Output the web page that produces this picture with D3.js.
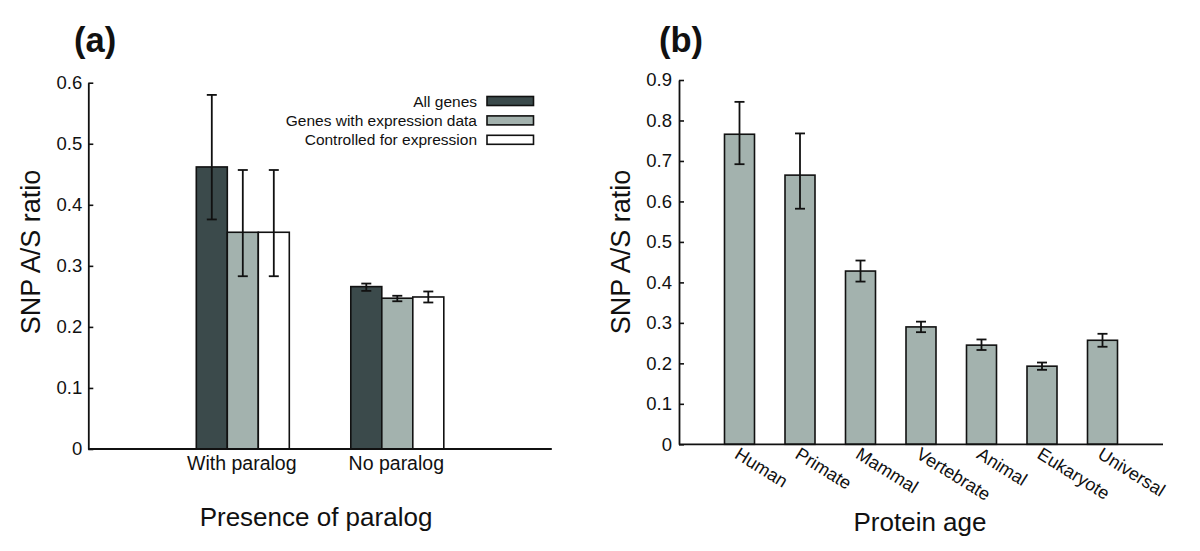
<!DOCTYPE html>
<html>
<head>
<meta charset="utf-8">
<script src="https://cdn.jsdelivr.net/npm/d3@7"></script>
<style>
  body { margin: 0; background: #fff; }
  svg { font-family: "Liberation Sans", Arial, sans-serif; }
</style>
</head>
<body>
<svg width="1200" height="551"></svg>
<script>
// ---- panel (a) data ----
const groupsA = ["With paralog", "No paralog"];
const seriesA = ["All genes", "Genes with expression data", "Controlled for expression"];
const colorsA = ["#3b4a4b", "#a3b2ae", "#ffffff"];
// values[series][group]
const allGenes = [0.462, 0.266];
const exprGenes = [0.355, 0.247];
const controlled = [0.355, 0.249];
const allGenesLo = [0.376, 0.259], allGenesHi = [0.580, 0.271];
const exprLo = [0.283, 0.242], exprHi = [0.457, 0.251];
const controlledLo = [0.283, 0.240], controlledHi = [0.457, 0.258];
const ticksA = [0, 0.1, 0.2, 0.3, 0.4, 0.5, 0.6];

// ---- panel (b) data ----
const ages = ["Human", "Primate", "Mammal", "Vertebrate", "Animal", "Eukaryote", "Universal"];
const ratioB = [0.766, 0.665, 0.428, 0.290, 0.245, 0.193, 0.257];
const lowB = [0.692, 0.582, 0.402, 0.277, 0.233, 0.184, 0.241];
const highB = [0.846, 0.768, 0.454, 0.303, 0.259, 0.202, 0.273];
const ticksB = [0, 0.1, 0.2, 0.3, 0.4, 0.5, 0.6, 0.7, 0.8, 0.9];

const svg = d3.select("svg");
const tickFmt = d => d === 0 ? "0" : d3.format(".1f")(d);

// build table for (a)
const valsA = [allGenes, exprGenes, controlled];
const losA = [allGenesLo, exprLo, controlledLo];
const hisA = [allGenesHi, exprHi, controlledHi];
const rowsA = [];
seriesA.forEach((s, i) => {
    groupsA.forEach((g, j) => {
        rowsA.push({ series: s, group: g, v: valsA[i][j], lo: losA[i][j], hi: hisA[i][j], color: colorsA[i] });
    });
});

//////////// PANEL A ////////////
const xA = d3.scalePoint().domain(groupsA).range([88.3, 551.8]).padding(1);
const subA = d3.scaleBand().domain(seriesA).range([-46.5, 46.5]);
const yA = d3.scaleLinear().domain([0, 0.6]).range([449, 82.7]);

const gA = svg.append("g");

gA.selectAll("rect.bar")
    .data(rowsA)
    .enter()
    .append("rect")
    .attr("class", "bar")
    .attr("x", d => xA(d.group) + subA(d.series))
    .attr("y", d => yA(d.v))
    .attr("width", subA.bandwidth())
    .attr("height", d => yA(0) - yA(d.v))
    .attr("fill", d => d.color)
    .attr("stroke", "#111")
    .attr("stroke-width", 1.6);

function errorBars(g, data, xFn, y) {
    const eb = g.selectAll("g.err").data(data).enter().append("g").attr("class", "err")
        .attr("stroke", "#111").attr("stroke-width", 1.8);
    eb.append("line")
        .attr("x1", xFn).attr("x2", xFn)
        .attr("y1", d => y(d.lo)).attr("y2", d => y(d.hi));
    eb.append("line")
        .attr("x1", d => xFn(d) - 5).attr("x2", d => xFn(d) + 5)
        .attr("y1", d => y(d.hi)).attr("y2", d => y(d.hi));
    eb.append("line")
        .attr("x1", d => xFn(d) - 5).attr("x2", d => xFn(d) + 5)
        .attr("y1", d => y(d.lo)).attr("y2", d => y(d.lo));
}
errorBars(gA, rowsA, d => xA(d.group) + subA(d.series) + subA.bandwidth() / 2, yA);

// y axis (a)
const axA = gA.append("g")
    .attr("transform", "translate(88.3,0)")
    .call(d3.axisLeft(yA).tickValues(ticksA).tickFormat(tickFmt).tickSizeInner(-5).tickSizeOuter(0).tickPadding(6));
axA.select(".domain").attr("stroke", "#111").attr("stroke-width", 1.8);
axA.selectAll(".tick line").attr("stroke", "#111").attr("stroke-width", 1.6);
axA.selectAll(".tick text").attr("font-size", 18.5).attr("fill", "#111")
    .attr("font-family", "Liberation Sans, Arial, sans-serif");

// x axis line (a)
gA.append("line")
    .attr("x1", xA.range()[0]).attr("x2", xA.range()[1])
    .attr("y1", yA(0)).attr("y2", yA(0))
    .attr("stroke", "#111").attr("stroke-width", 1.8);

gA.selectAll("text.cat")
    .data(groupsA)
    .enter()
    .append("text")
    .attr("class", "cat")
    .attr("x", d => xA(d) - 1)
    .attr("y", 470)
    .attr("text-anchor", "middle")
    .attr("font-size", 19.5)
    .attr("fill", "#111")
    .text(d => d);

// legend (a)
const leg = gA.selectAll("g.leg")
    .data(seriesA)
    .enter()
    .append("g")
    .attr("class", "leg")
    .attr("transform", (d, i) => "translate(0," + (101.5 + i * 19.4) + ")");
leg.append("rect")
    .attr("x", 487).attr("y", -5)
    .attr("width", 46.5).attr("height", 9)
    .attr("fill", (d, i) => colorsA[i])
    .attr("stroke", "#111").attr("stroke-width", 1.6);
leg.append("text")
    .attr("x", 477).attr("y", 5)
    .attr("text-anchor", "end")
    .attr("font-size", 15.5)
    .attr("fill", "#111")
    .text(d => d);

gA.append("text")
    .attr("x", 316).attr("y", 526)
    .attr("text-anchor", "middle")
    .attr("font-size", 26)
    .attr("fill", "#111")
    .text("Presence of paralog");

gA.append("text")
    .attr("transform", "translate(40,252) rotate(-90)")
    .attr("text-anchor", "middle")
    .attr("font-size", 27)
    .attr("fill", "#111")
    .text("SNP A/S ratio");

gA.append("text")
    .attr("x", 74).attr("y", 52)
    .attr("font-size", 34.5)
    .attr("font-weight", "bold")
    .attr("fill", "#111")
    .text("(a)");

//////////// PANEL B ////////////
const rowsB = ages.map((a, i) => ({ age: a, v: ratioB[i], lo: lowB[i], hi: highB[i] }));
const xB = d3.scalePoint().domain(ages).range([679, 1163]).padding(1);
const yB = d3.scaleLinear().domain([0, 0.9]).range([444.3, 80]);
const barW = 30;

const gB = svg.append("g");

gB.selectAll("rect.bar")
    .data(rowsB)
    .enter()
    .append("rect")
    .attr("class", "bar")
    .attr("x", d => xB(d.age) - barW / 2)
    .attr("y", d => yB(d.v))
    .attr("width", barW)
    .attr("height", d => yB(0) - yB(d.v))
    .attr("fill", "#a3b2ae")
    .attr("stroke", "#111")
    .attr("stroke-width", 1.6);

errorBars(gB, rowsB, d => xB(d.age), yB);

const axB = gB.append("g")
    .attr("transform", "translate(679,0)")
    .call(d3.axisLeft(yB).tickValues(ticksB).tickFormat(tickFmt).tickSizeInner(-5).tickSizeOuter(0).tickPadding(7));
axB.select(".domain").attr("stroke", "#111").attr("stroke-width", 1.8);
axB.selectAll(".tick line").attr("stroke", "#111").attr("stroke-width", 1.6);
axB.selectAll(".tick text").attr("font-size", 18.5).attr("fill", "#111")
    .attr("font-family", "Liberation Sans, Arial, sans-serif");

gB.append("line")
    .attr("x1", xB.range()[0]).attr("x2", xB.range()[1])
    .attr("y1", yB(0)).attr("y2", yB(0))
    .attr("stroke", "#111").attr("stroke-width", 1.8);

gB.selectAll("text.cat")
    .data(ages)
    .enter()
    .append("text")
    .attr("class", "cat")
    .attr("transform", d => "translate(" + (xB(d) - 6) + "," + (yB(0) + 13) + ") rotate(32)")
    .attr("font-size", 18)
    .attr("fill", "#111")
    .text(d => d);

gB.append("text")
    .attr("x", 920).attr("y", 531)
    .attr("text-anchor", "middle")
    .attr("font-size", 26)
    .attr("fill", "#111")
    .text("Protein age");

gB.append("text")
    .attr("transform", "translate(630,252) rotate(-90)")
    .attr("text-anchor", "middle")
    .attr("font-size", 27)
    .attr("fill", "#111")
    .text("SNP A/S ratio");

gB.append("text")
    .attr("x", 659).attr("y", 52)
    .attr("font-size", 34.5)
    .attr("font-weight", "bold")
    .attr("fill", "#111")
    .text("(b)");
</script>
</body>
</html>
